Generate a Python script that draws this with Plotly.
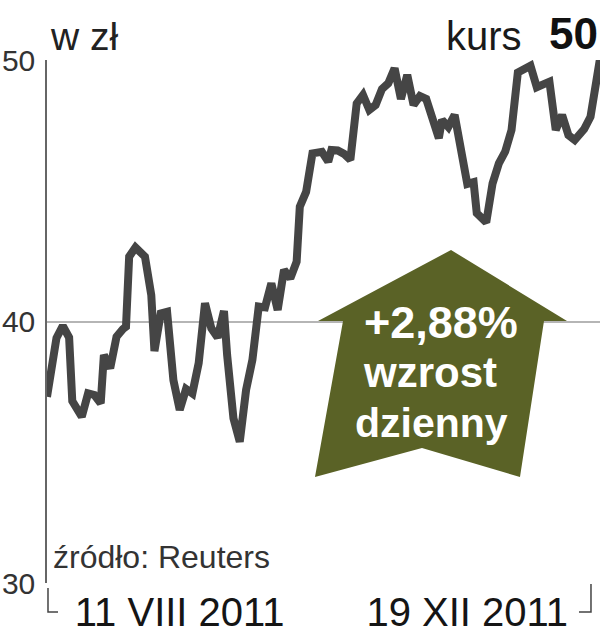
import plotly.graph_objects as go

# kurs akcji, w zł - sesje (indeks) i wartości
sesja = [0, 3, 5, 7, 8, 11, 13, 15, 17, 18, 20, 22, 24, 25, 26, 28, 31, 33, 34, 36,
         38, 40, 42, 44, 46, 48, 50, 52, 54, 56, 57, 59, 61, 63, 65, 66, 67, 69, 71, 73,
         75, 77, 79, 80, 82, 84, 87, 89, 90, 92, 94, 96, 98, 100, 102, 104, 106, 108, 110, 112,
         114, 116, 118, 120, 122, 124, 125, 127, 129, 131, 133, 135, 136, 139, 141, 143, 145, 147, 149, 153,
         155, 159, 161, 163, 165, 167, 170, 172, 175]
kurs = [37.12, 39.37, 39.83, 39.39, 36.96, 36.36, 37.25, 37.19, 36.87, 38.72,
        38.21, 39.42, 39.71, 39.80, 42.48, 42.83, 42.48, 41.01, 38.87, 40.31,
        40.37, 37.76, 36.62, 37.42, 37.25, 38.41, 40.70, 39.74, 39.39, 40.40,
        38.72, 36.30, 35.40, 37.38, 38.53, 39.80, 40.57, 40.54, 41.46, 40.44,
        41.97, 41.65, 42.29, 44.39, 44.96, 46.43, 46.49, 46.11, 46.56, 46.54,
        46.41, 46.18, 48.34, 48.66, 48.09, 48.28, 48.89, 49.11, 49.68, 48.51,
        49.43, 48.28, 48.62, 48.51, 47.64, 47.01, 47.71, 47.44, 47.90, 46.44,
        45.26, 45.33, 44.14, 43.79, 45.28, 46.05, 46.50, 47.32, 49.52, 49.78,
        48.96, 49.17, 47.32, 47.90, 47.13, 46.94, 47.36, 47.83, 50.05]

daty_pozycje = [42, 133]
daty_etykiety = ["11 VIII 2011", "19 XII 2011"]
y_ticks = [30, 40, 50]
zmiana = "+2,88%"

FONT = "Liberation Sans, Arial, sans-serif"
OLIWKA = "#5a6226"

fig = go.Figure()
fig.add_trace(go.Scatter(x=sesja, y=kurs, mode="lines",
                         line=dict(color="#454545", width=8),
                         cliponaxis=False, hoverinfo="skip"))

fig.update_layout(
    width=603, height=640,
    margin=dict(l=47, r=3, t=60, b=57),
    paper_bgcolor="white", plot_bgcolor="white",
    showlegend=False,
    font=dict(family=FONT, color="#333333"),
    xaxis=dict(range=[0, 175], showgrid=False, zeroline=False, showline=False,
               tickvals=daty_pozycje, ticktext=daty_etykiety, ticks="",
               tickfont=dict(size=40, color="#151515"), ticklabelstandoff=2,
               automargin=False),
    yaxis=dict(range=[30, 50], tickvals=y_ticks, showgrid=True,
               gridcolor="#b5b5b5", gridwidth=1.5, zeroline=False,
               showline=True, linecolor="#666666", linewidth=1.5,
               ticks="", tickfont=dict(size=30, color="#333333"),
               ticklabelstandoff=4, automargin=False),
)

# strzałka ze zmianą dzienną
fig.add_shape(type="path", xref="paper", yref="paper",
              path="M 0.7306 0.6367 L 0.9403 0.5010 L 0.8987 0.5010 L 0.8553 0.2027 "
                   "L 0.6781 0.2581 L 0.4846 0.2027 L 0.5353 0.5010 L 0.4901 0.5010 Z",
              fillcolor=OLIWKA, line=dict(width=0), layer="above")

for txt, xx, yy, rozm in [(zmiana, 0.7125, 0.499, 45), ("wzrost", 0.6926, 0.4034, 42),
                          ("dzienny", 0.696, 0.306, 41)]:
    fig.add_annotation(text="<b>" + txt + "</b>", x=xx, y=yy, xref="paper", yref="paper",
                       showarrow=False, xanchor="center", yanchor="middle",
                       font=dict(size=rozm, color="white", family=FONT))

# nawiasy pod osią
fig.add_shape(type="path", xref="paper", yref="paper",
              path="M 0.0018 -0.0096 L 0.0018 -0.0554 L 0.0199 -0.0554",
              line=dict(color="#444444", width=1.5))
fig.add_shape(type="path", xref="paper", yref="paper",
              path="M 0.9837 -0.002 L 0.9837 -0.0554 L 0.962 -0.0554",
              line=dict(color="#444444", width=1.5))

fig.add_annotation(text="w zł", x=0.002, y=1.0, xref="paper", yref="paper",
                   showarrow=False, xanchor="left", yanchor="bottom",
                   font=dict(size=39, color="#222222"))
fig.add_annotation(text="kurs", x=0.862, y=1.0, xref="paper", yref="paper",
                   showarrow=False, xanchor="right", yanchor="bottom",
                   font=dict(size=40, color="#1a1a1a"))
fig.add_annotation(text="<b>50</b>", x=1.0, y=1.0, xref="paper", yref="paper",
                   showarrow=False, xanchor="right", yanchor="bottom",
                   font=dict(size=44, color="#111111"))
fig.add_annotation(text="źródło: Reuters", x=0.008, y=0.012, xref="paper", yref="paper",
                   showarrow=False, xanchor="left", yanchor="bottom",
                   font=dict(size=32, color="#333333"))

# bez marginesu strony, żeby wykres zaczynał się w rogu okna
fig.write_html("out.html", config={"displayModeBar": False},
               post_script="document.body.style.margin='0';")
